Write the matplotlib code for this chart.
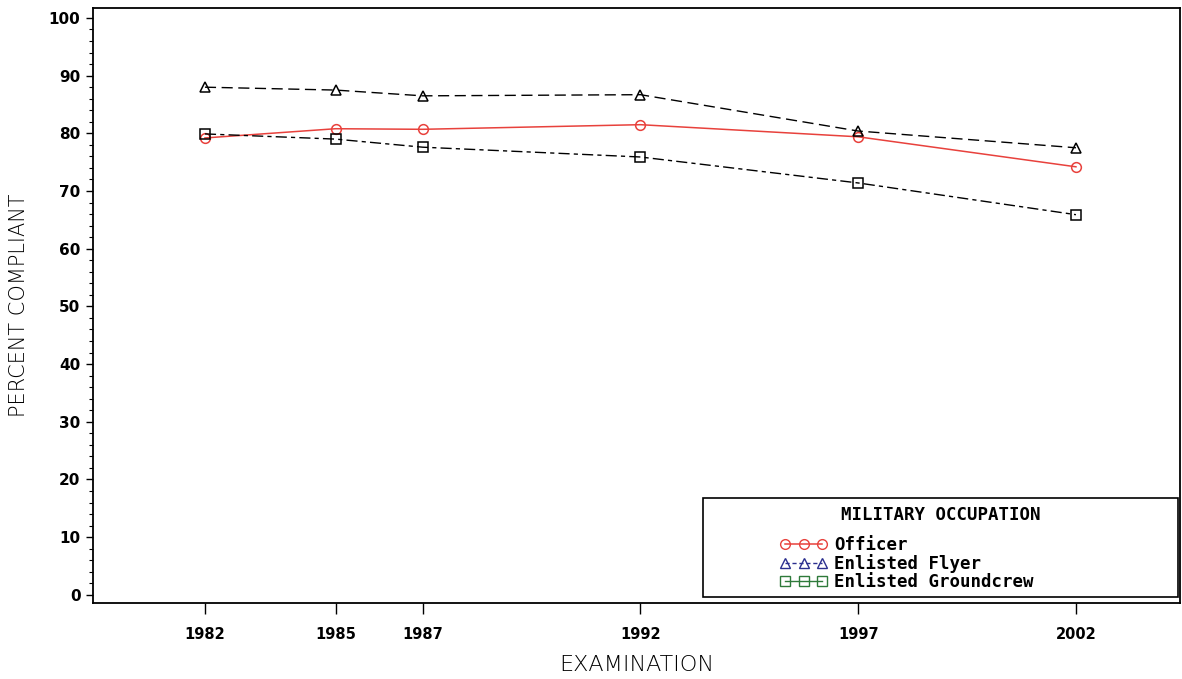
import matplotlib.pyplot as plt
from matplotlib.lines import Line2D
from matplotlib.patches import Rectangle
from matplotlib.ticker import MultipleLocator

# Compliance by examination year and occupation
years = [1982, 1985, 1987, 1992, 1997, 2002]
officer = [79.2, 80.8, 80.7, 81.5, 79.4, 74.2]
flyer = [88.0, 87.5, 86.5, 86.7, 80.4, 77.5]
groundcrew = [79.9, 79.0, 77.6, 75.9, 71.4, 65.9]

labels = ['Officer', 'Enlisted Flyer', 'Enlisted Groundcrew']
colors = ['#e8413c', '#2b2f8f', '#2e7a3a']

fig = plt.figure(figsize=(11.82, 6.79), dpi=100)
ax = fig.add_axes([0.0787, 0.112, 0.92, 0.876])

ax.plot(years, officer, color=colors[0], lw=1.1, marker='o', ms=7,
        mfc='none', mec=colors[0], mew=1.1)
ax.plot(years, flyer, color='black', lw=1.0, ls=(0, (8, 4)), marker='^', ms=7,
        mfc='none', mec='black', mew=1.1)
ax.plot(years, groundcrew, color='black', lw=1.0, ls=(0, (8, 3, 3, 3)), marker='s', ms=7,
        mfc='none', mec='black', mew=1.1)

ax.set_xlim(1979.43, 2004.4)
ax.set_ylim(-1.4, 101.7)
ax.set_xticks(years)
ax.set_xticklabels([str(y) for y in years], fontweight='bold', fontsize=10.5)
ax.yaxis.set_minor_locator(MultipleLocator(2))
ax.set_yticks(range(0, 101, 10))
ax.set_yticklabels([str(v) for v in range(0, 101, 10)], fontweight='bold', fontsize=11)
ax.tick_params(axis='y', which='major', length=5, width=1, pad=4)
ax.tick_params(axis='y', which='minor', length=3, width=0.8)
ax.tick_params(axis='x', which='major', length=8, width=1, pad=9)

for side in ax.spines.values():
    side.set_linewidth(1.3)

ax.set_xlabel('EXAMINATION', fontsize=16, fontweight='light', labelpad=10)
ax.set_ylabel('PERCENT COMPLIANT', fontsize=15, fontweight='light', labelpad=14)

# Legend panel in the lower right
box_x, box_y, box_w, box_h = 0.561, 0.01, 0.437, 0.166
ax.add_patch(Rectangle((box_x, box_y), box_w, box_h, transform=ax.transAxes,
                       facecolor='white', edgecolor='black', lw=1.2, zorder=5))
ax.text(box_x + box_w / 2, box_y + box_h - 0.028, 'MILITARY OCCUPATION',
        transform=ax.transAxes, ha='center', va='center', fontsize=12.5,
        fontweight='bold', family='DejaVu Sans Mono', zorder=6)

handles = [
    Line2D([], [], color=colors[0], lw=1.1, marker='o', ms=7, mfc='none', mec=colors[0]),
    Line2D([], [], color=colors[1], lw=1.0, ls=(0, (3, 2)), marker='^', ms=7, mfc='none', mec=colors[1]),
    Line2D([], [], color=colors[2], lw=1.0, marker='s', ms=7, mfc='none', mec=colors[2]),
]
leg = ax.legend(handles, labels, loc='upper left', bbox_to_anchor=(0.632, 0.113),
                frameon=False, numpoints=3, handlelength=2.7, handletextpad=0.4,
                labelspacing=0.0, borderpad=0, borderaxespad=0,
                prop={'family': 'DejaVu Sans Mono', 'weight': 'bold', 'size': 12.5})
leg.set_zorder(7)

fig.savefig('out.png', dpi=100)
